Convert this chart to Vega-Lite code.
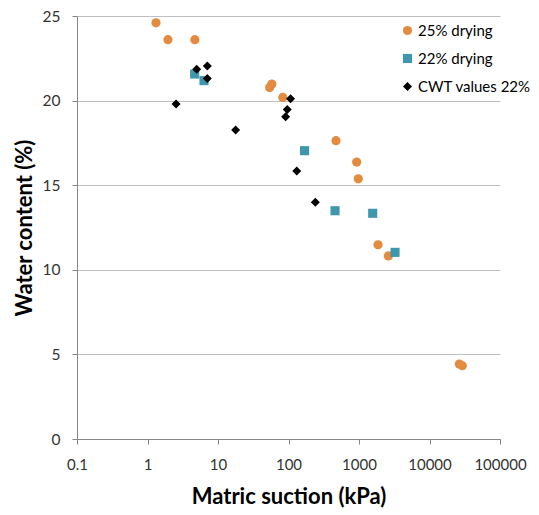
{
  "$schema": "https://vega.github.io/schema/vega-lite/v6.json",
  "autosize": "none",
  "width": 423,
  "height": 423,
  "padding": {"left": 77, "top": 16, "right": 39, "bottom": 76},
  "background": "white",
  "config": {
    "view": {"stroke": null},
    "font": "Lato",
    "axis": {"labelFont": "Lato", "titleFont": "Lato"},
    "legend": {"labelFont": "Lato"}
  },
  "data": {
    "values": [
      {"series": "25% drying", "suction": 1.32, "water": 24.6},
      {"series": "25% drying", "suction": 1.95, "water": 23.6},
      {"series": "25% drying", "suction": 4.7, "water": 23.6},
      {"series": "25% drying", "suction": 54, "water": 20.77},
      {"series": "25% drying", "suction": 58, "water": 20.98},
      {"series": "25% drying", "suction": 83, "water": 20.19},
      {"series": "25% drying", "suction": 472, "water": 17.63},
      {"series": "25% drying", "suction": 926, "water": 16.37},
      {"series": "25% drying", "suction": 977, "water": 15.38},
      {"series": "25% drying", "suction": 1862, "water": 11.48},
      {"series": "25% drying", "suction": 2606, "water": 10.82},
      {"series": "25% drying", "suction": 26500, "water": 4.43},
      {"series": "25% drying", "suction": 29200, "water": 4.33},
      {"series": "22% drying", "suction": 4.67, "water": 21.57},
      {"series": "22% drying", "suction": 6.33, "water": 21.18},
      {"series": "22% drying", "suction": 169, "water": 17.04},
      {"series": "22% drying", "suction": 457, "water": 13.49},
      {"series": "22% drying", "suction": 1564, "water": 13.34},
      {"series": "22% drying", "suction": 3245, "water": 11.03},
      {"series": "CWT values 22%", "suction": 4.99, "water": 21.85},
      {"series": "CWT values 22%", "suction": 7.06, "water": 22.04},
      {"series": "CWT values 22%", "suction": 7.06, "water": 21.3},
      {"series": "CWT values 22%", "suction": 2.54, "water": 19.8},
      {"series": "CWT values 22%", "suction": 107, "water": 20.11},
      {"series": "CWT values 22%", "suction": 96, "water": 19.48},
      {"series": "CWT values 22%", "suction": 91, "water": 19.05},
      {"series": "CWT values 22%", "suction": 17.8, "water": 18.26},
      {"series": "CWT values 22%", "suction": 131, "water": 15.84},
      {"series": "CWT values 22%", "suction": 240, "water": 13.99}
    ]
  },
  "mark": {"type": "point", "filled": true, "opacity": 1},
  "encoding": {
    "x": {
      "field": "suction",
      "type": "quantitative",
      "scale": {"type": "log", "domain": [0.1, 100000], "nice": false},
      "axis": {
        "title": "Matric suction (kPa)",
        "values": [0.1, 1, 10, 100, 1000, 10000, 100000],
        "format": "~f",
        "grid": false,
        "labelOverlap": false,
        "labelBound": false,
        "labelFlush": false,
        "domainColor": "#868686",
        "tickColor": "#868686",
        "tickSize": 5,
        "labelFontSize": 15,
        "labelColor": "#333333",
        "labelPadding": 13,
        "titleFontSize": 22,
        "titleFontWeight": "bold",
        "titleColor": "#000000",
        "titlePadding": 14
      }
    },
    "y": {
      "field": "water",
      "type": "quantitative",
      "scale": {"domain": [0, 25], "nice": false, "zero": true},
      "axis": {
        "title": "Water content (%)",
        "values": [0, 5, 10, 15, 20, 25],
        "grid": true,
        "gridColor": "#BFBFBF",
        "gridWidth": 1,
        "domainColor": "#868686",
        "tickColor": "#868686",
        "tickSize": 5,
        "labelFontSize": 15.5,
        "labelColor": "#333333",
        "labelPadding": 12,
        "titleFontSize": 22,
        "titleFontWeight": "bold",
        "titleColor": "#000000",
        "titlePadding": 6
      }
    },
    "color": {
      "field": "series",
      "type": "nominal",
      "scale": {
        "domain": ["25% drying", "22% drying", "CWT values 22%"],
        "range": ["#E38B3F", "#3F97AE", "#000000"]
      },
      "legend": {
        "title": null,
        "orient": "none",
        "legendX": 323,
        "legendY": 7,
        "padding": 0,
        "labelFontSize": 15,
        "labelColor": "#000000",
        "labelOffset": 3,
        "rowPadding": 12,
        "symbolOpacity": 1
      }
    },
    "shape": {
      "field": "series",
      "type": "nominal",
      "scale": {
        "domain": ["25% drying", "22% drying", "CWT values 22%"],
        "range": ["circle", "square", "diamond"]
      },
      "legend": null
    },
    "size": {
      "field": "series",
      "type": "nominal",
      "scale": {
        "domain": ["25% drying", "22% drying", "CWT values 22%"],
        "range": [85, 81, 64]
      },
      "legend": null
    }
  }
}
